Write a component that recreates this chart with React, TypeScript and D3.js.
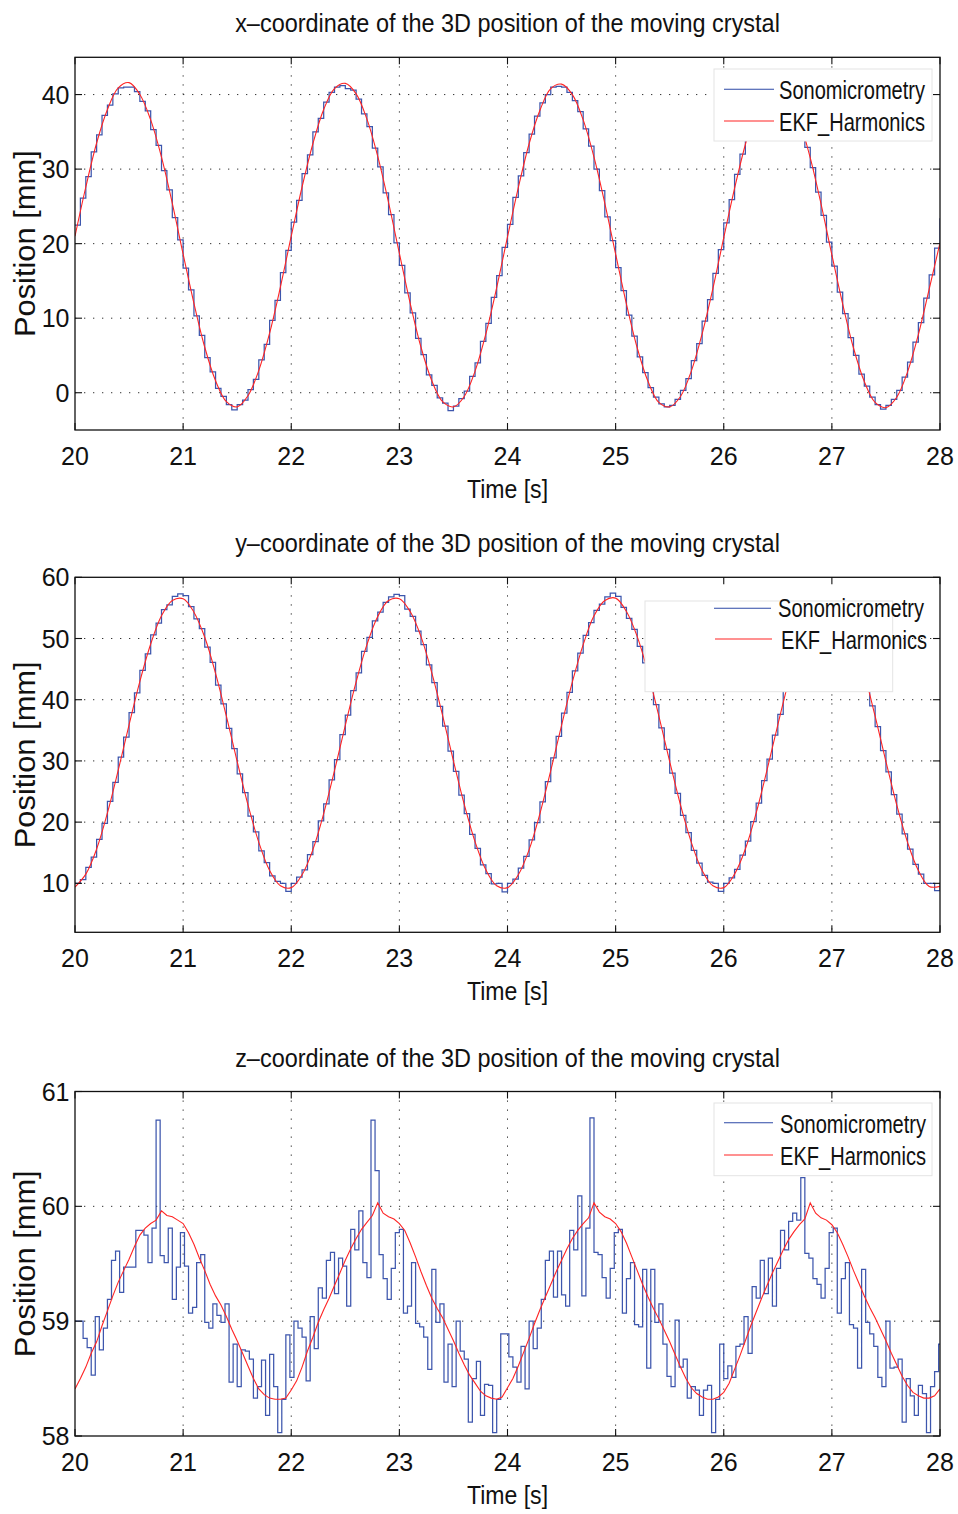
import React from 'react';
import * as d3 from 'd3';

// ---------- data ----------
const T_START = 20;
const T_END = 28;
const TIME_TICKS = [20, 21, 22, 23, 24, 25, 26, 27, 28];

const X_Y_TICKS = [0, 10, 20, 30, 40];
const Y_Y_TICKS = [10, 20, 30, 40, 50, 60];
const Z_Y_TICKS = [58, 59, 60, 61];

const SERIES_NAMES = ['Sonomicrometry', 'EKF_Harmonics'];

// x-coordinate, sonomicrometry (stairs, 0.05 s)
const X_SONO_DT = 0.05;
const X_SONO = [
  22.5, 26.1, 29.0, 32.3, 34.6, 37.2, 38.6, 40.1, 40.9, 41.0, 41.0, 40.4, 39.1, 37.8, 35.3, 33.2, 29.8, 27.2, 23.5, 20.5,
  16.7, 13.8, 10.3, 7.7, 4.7, 2.8, 0.6, -0.5, -1.6, -2.3, -1.6, -1.0, 0.4, 1.8, 4.4, 6.5, 9.7, 12.4, 16.1, 19.1,
  22.9, 25.8, 29.4, 31.9, 35.0, 36.8, 39.0, 40.3, 41.0, 41.2, 40.8, 40.6, 39.4, 37.4, 35.7, 32.8, 30.3, 26.8, 23.9, 20.1,
  17.1, 13.4, 10.7, 7.3, 5.1, 2.4, 1.0, -0.7, -1.4, -2.4, -1.8, -0.8, 0.2, 2.2, 4.0, 6.9, 9.3, 12.8, 15.7, 19.5,
  22.6, 26.2, 29.1, 32.2, 34.7, 37.1, 38.9, 40.0, 41.0, 41.1, 41.0, 40.3, 39.2, 37.7, 35.4, 33.1, 30.0, 27.1, 23.6, 20.4,
  16.8, 13.7, 10.4, 7.6, 4.8, 2.7, 0.7, -0.6, -1.5, -1.9, -1.7, -0.9, 0.3, 1.9, 4.3, 6.6, 9.6, 12.5, 16.0, 19.2,
  22.8, 25.9, 29.3, 32.0, 34.9, 36.9, 38.7, 40.2, 40.8, 41.0, 41.1, 40.5, 39.3, 37.5, 35.6, 32.9, 30.2, 26.9, 23.8, 20.2,
  17.0, 13.5, 10.6, 7.4, 5.0, 2.5, 0.9, -0.6, -1.6, -2.2, -1.7, -0.9, 0.3, 2.1, 4.1, 6.8, 9.4, 12.7, 15.8, 19.4,
  23.4,
];

// x-coordinate, EKF (0.1 s)
const X_EKF_DT = 0.1;
const X_EKF = [
  21.0, 27.6, 33.5, 38.0, 40.9, 41.6, 40.0, 36.6, 31.6, 25.4, 18.6, 12.0, 6.1, 1.6, -1.2, -1.9, -0.4, 3.0, 8.0, 14.2,
  21.0, 27.6, 33.4, 38.0, 40.8, 41.5, 40.1, 36.7, 31.7, 25.5, 18.7, 12.0, 6.1, 1.6, -1.2, -1.9, -0.5, 2.9, 7.9, 14.1,
  20.9, 27.5, 33.4, 37.9, 40.8, 41.4, 40.0, 36.6, 31.6, 25.4, 18.6, 11.9, 6.0, 1.5, -1.3, -1.9, -0.5, 2.9, 7.9, 14.0,
  20.8, 27.4, 33.3, 37.9, 40.7, 41.4, 39.9, 36.5, 31.5, 25.3, 18.5, 11.9, 6.0, 1.5, -1.3, -2.0, -0.6, 2.8, 7.8, 13.9,
  20.1,
];

// y-coordinate, sonomicrometry (stairs, 0.05 s)
const Y_SONO_DT = 0.05;
const Y_SONO = [
  10.0, 10.6, 12.6, 14.3, 17.2, 19.8, 23.4, 26.5, 30.6, 33.9, 37.9, 41.1, 44.8, 47.5, 50.6, 52.5, 54.7, 55.5, 56.9, 57.3,
  57.0, 55.2, 53.2, 51.6, 48.6, 46.1, 42.4, 39.3, 35.3, 32.0, 27.9, 24.8, 21.0, 18.4, 15.3, 13.4, 11.2, 10.3, 10.0, 8.7,
  10.0, 11.0, 12.2, 14.7, 16.8, 20.2, 23.0, 26.9, 30.2, 34.3, 37.5, 41.5, 44.4, 47.9, 50.2, 52.9, 54.3, 55.9, 56.8, 57.2,
  57.0, 54.8, 53.6, 51.2, 49.0, 45.7, 42.8, 38.9, 35.7, 31.6, 28.3, 24.4, 21.4, 18.0, 15.7, 13.0, 11.6, 9.9, 10.0, 8.6,
  10.0, 10.7, 12.5, 14.4, 17.1, 19.9, 23.3, 26.6, 30.5, 34.0, 37.8, 41.2, 44.7, 47.6, 50.5, 52.6, 54.6, 55.6, 56.8, 57.4,
  56.9, 55.1, 53.3, 51.5, 48.7, 46.0, 42.5, 39.2, 35.4, 31.9, 28.0, 24.7, 21.1, 18.3, 15.4, 13.3, 11.3, 10.2, 10.0, 8.7,
  10.0, 10.9, 12.3, 14.6, 16.9, 20.1, 23.1, 26.8, 30.3, 34.2, 37.6, 41.4, 44.5, 47.8, 50.3, 52.8, 54.4, 55.8, 56.7, 57.2,
  56.9, 54.9, 53.5, 51.3, 48.9, 45.8, 42.7, 39.0, 35.6, 31.7, 28.2, 24.5, 21.3, 18.1, 15.6, 13.1, 11.5, 10.0, 10.0, 8.8,
  10.0,
];

// y-coordinate, EKF (0.1 s)
const Y_EKF_DT = 0.1;
const Y_EKF = [
  9.4, 11.5, 15.6, 21.5, 28.5, 35.9, 43.0, 49.1, 53.7, 56.2, 56.5, 54.3, 50.2, 44.3, 37.3, 29.9, 22.8, 16.7, 12.1, 9.6,
  9.3, 11.4, 15.5, 21.4, 28.4, 35.8, 42.9, 49.0, 53.6, 56.2, 56.5, 54.4, 50.3, 44.4, 37.4, 30.0, 22.9, 16.8, 12.2, 9.6,
  9.3, 11.4, 15.5, 21.4, 28.4, 35.8, 42.9, 49.0, 53.7, 56.2, 56.6, 54.4, 50.3, 44.4, 37.3, 29.9, 22.8, 16.7, 12.1, 9.6,
  9.3, 11.5, 15.6, 21.5, 28.5, 35.9, 43.0, 49.1, 53.7, 56.2, 56.5, 54.3, 50.2, 44.3, 37.3, 29.9, 22.8, 16.7, 12.1, 9.5,
  9.5,
];

// z-coordinate, sonomicrometry (stairs, 0.0375 s)
const Z_SONO_DT = 0.0375;
const Z_SONO = [
  59.00, 59.00, 58.85, 58.77, 58.53, 59.04, 58.75, 58.94, 59.19, 59.53,
  59.61, 59.25, 59.47, 59.47, 59.47, 59.79, 59.79, 59.75, 59.51, 59.81,
  60.75, 59.57, 59.51, 59.81, 59.19, 59.47, 59.77, 59.48, 59.07, 59.12,
  59.51, 59.58, 58.99, 58.94, 59.15, 59.05, 58.99, 59.15, 58.47, 58.80,
  58.43, 58.75, 58.74, 58.67, 58.33, 58.43, 58.66, 58.18, 58.71, 58.43,
  58.03, 58.32, 58.88,
  58.51, 59.00, 58.94, 58.86, 58.48, 59.04, 58.76, 59.29, 59.20, 59.53,
  59.60, 59.24, 59.55, 59.48, 59.13, 59.80, 59.62, 59.96, 59.51, 59.38,
  60.75, 60.31, 59.58, 59.37, 59.19, 59.46, 59.77, 59.80, 59.07, 59.13,
  59.51, 58.98, 58.95, 58.86, 58.58, 59.45, 58.99, 59.15, 58.47, 58.80,
  58.43, 59.00, 58.74, 58.67, 58.12, 58.50, 58.65, 58.18, 58.45, 58.44,
  58.03, 58.32, 58.89, 58.89, 58.69,
  58.60, 58.47, 58.78, 58.41, 59.00, 58.76, 58.94, 59.19, 59.53, 59.61,
  59.21, 59.61, 59.23, 59.13, 59.79, 59.62, 60.09, 59.22, 59.81, 60.77,
  59.60, 59.58, 59.38, 59.20, 59.46, 59.77, 59.80, 59.07, 59.37, 59.51,
  58.97, 58.95, 59.45, 58.59, 59.45, 58.99, 59.15, 58.80, 58.52, 58.43,
  59.01, 58.60, 58.67, 58.33, 58.43, 58.40, 58.18, 58.40, 58.44, 58.03,
  58.32,
  58.80, 58.50, 58.61, 58.51, 58.78, 58.80, 59.04, 58.72, 59.30, 59.20,
  59.53, 59.24, 59.55, 59.13, 59.46, 59.79, 59.62, 59.87, 59.94, 59.88,
  60.25, 59.59, 59.55, 59.37, 59.32, 59.20, 59.46, 59.77, 59.81, 59.07,
  59.37, 59.51, 58.97, 58.94, 58.59, 59.45, 58.99, 58.89, 58.78, 58.51,
  58.43, 59.00, 58.59, 58.60, 58.67, 58.12, 58.50, 58.35, 58.18, 58.44,
  58.37, 58.03, 58.43, 58.56, 58.80,
  58.80,
];

// z-coordinate, EKF (0.05 s)
const Z_EKF_DT = 0.05;
const Z_EKF = [
  58.41, 58.50, 58.60, 58.72, 58.82, 58.96, 59.09, 59.22, 59.34, 59.44, 59.54, 59.65, 59.75, 59.81, 59.85, 59.88, 59.96, 59.92, 59.91, 59.88,
  59.85, 59.77, 59.67, 59.55, 59.44, 59.32, 59.22, 59.14, 59.04, 58.93, 58.83, 58.72, 58.61, 58.50, 58.41, 58.36, 58.33, 58.32, 58.32, 58.33,
  58.40, 58.48, 58.60, 58.74, 58.86, 58.99, 59.10, 59.20, 59.31, 59.42, 59.53, 59.63, 59.72, 59.80, 59.86, 59.92, 60.03, 59.94, 59.91, 59.89,
  59.85, 59.79, 59.68, 59.56, 59.43, 59.31, 59.20, 59.11, 59.03, 58.93, 58.83, 58.72, 58.62, 58.53, 58.46, 58.39, 58.35, 58.33, 58.32, 58.34,
  58.42, 58.50, 58.61, 58.73, 58.85, 58.98, 59.10, 59.21, 59.32, 59.43, 59.53, 59.63, 59.72, 59.79, 59.85, 59.90, 60.03, 59.95, 59.91, 59.89,
  59.85, 59.78, 59.68, 59.56, 59.44, 59.32, 59.21, 59.11, 59.02, 58.92, 58.82, 58.71, 58.60, 58.50, 58.42, 58.37, 58.34, 58.32, 58.32, 58.34,
  58.38, 58.46, 58.58, 58.70, 58.83, 58.96, 59.08, 59.20, 59.31, 59.42, 59.52, 59.62, 59.71, 59.78, 59.84, 59.89, 60.03, 59.94, 59.90, 59.88,
  59.84, 59.77, 59.67, 59.56, 59.44, 59.33, 59.22, 59.12, 59.03, 58.93, 58.83, 58.72, 58.62, 58.52, 58.44, 58.38, 58.35, 58.33, 58.33, 58.35,
  58.41,
];

// ---------- layout & style ----------
const W = 958;
const H = 1514;
const LEFT = 75;
const RIGHT = 940;
const FONT = '"Liberation Sans", Arial, Helvetica, sans-serif';
const BLUE = '#2c48a6';
const RED = '#ff2424';
const TICK_LEN = 7;

const PANELS = [
  {
    title: 'x\u2013coordinate of the 3D position of the moving crystal',
    top: 57.3, bottom: 430, yDomain: [-5, 45], yTicks: X_Y_TICKS,
    sono: X_SONO, sonoDt: X_SONO_DT, ekf: X_EKF, ekfDt: X_EKF_DT, ekfCurve: 'smooth',
    legend: {
      box: [714, 69, 932, 141],
      mask: [714, 69, 932, 141],
      rows: [
        { ly: 89.3, lx0: 724, lx1: 774, tx: 779, ty: 99 },
        { ly: 121, lx0: 724, lx1: 774, tx: 779, ty: 131 },
      ],
    },
  },
  {
    title: 'y\u2013coordinate of the 3D position of the moving crystal',
    top: 577.3, bottom: 932.3, yDomain: [2, 60], yTicks: Y_Y_TICKS,
    sono: Y_SONO, sonoDt: Y_SONO_DT, ekf: Y_EKF, ekfDt: Y_EKF_DT, ekfCurve: 'smooth',
    legend: {
      box: [645, 601, 892.7, 691.7],
      mask: [645, 578, 892.7, 691.7],
      rows: [
        { ly: 608.3, lx0: 714, lx1: 771, tx: 778, ty: 616.7 },
        { ly: 639, lx0: 715, lx1: 772, tx: 781, ty: 649 },
      ],
    },
  },
  {
    title: 'z\u2013coordinate of the 3D position of the moving crystal',
    top: 1091.5, bottom: 1436, yDomain: [58, 61], yTicks: Z_Y_TICKS,
    sono: Z_SONO, sonoDt: Z_SONO_DT, ekf: Z_EKF, ekfDt: Z_EKF_DT, ekfCurve: 'linear',
    legend: {
      box: [714, 1103, 932, 1175.7],
      mask: [714, 1103, 932, 1175.7],
      rows: [
        { ly: 1122.7, lx0: 724, lx1: 773, tx: 780, ty: 1133 },
        { ly: 1155, lx0: 724, lx1: 773, tx: 780, ty: 1165 },
      ],
    },
  },
];

function toPoints(values: number[], dt: number): [number, number][] {
  return values.map((v, i) => [Math.min(T_START + i * dt, T_END), v]);
}

function Panel({ cfg, id }: { cfg: any; id: number }) {
  const x = d3.scaleLinear().domain([T_START, T_END]).range([LEFT, RIGHT]);
  const y = d3.scaleLinear().domain(cfg.yDomain).range([cfg.bottom, cfg.top]);

  const stairs = d3
    .line<[number, number]>()
    .x((d) => x(d[0]))
    .y((d) => y(d[1]))
    .curve(d3.curveStepAfter);
  const smooth = d3
    .line<[number, number]>()
    .x((d) => x(d[0]))
    .y((d) => y(d[1]))
    .curve(cfg.ekfCurve === 'linear' ? d3.curveLinear : d3.curveCatmullRom.alpha(0.5));

  const sonoPath = stairs(toPoints(cfg.sono, cfg.sonoDt)) || '';
  const ekfPath = smooth(toPoints(cfg.ekf, cfg.ekfDt)) || '';

  const clipId = `clip-${id}`;
  const top = cfg.top;
  const bottom = cfg.bottom;
  const midX = (LEFT + RIGHT) / 2;
  const midY = (top + bottom) / 2;
  const [bx0, by0, bx1, by1] = cfg.legend.box;
  const [mx0, my0, mx1, my1] = cfg.legend.mask;

  const gridStyle = { stroke: '#333', strokeWidth: 1, strokeDasharray: '1.3 7.7' };

  return (
    <g>
      <defs>
        <clipPath id={clipId}>
          <rect x={LEFT} y={top} width={RIGHT - LEFT} height={bottom - top} />
        </clipPath>
      </defs>
      <rect x={LEFT} y={top} width={RIGHT - LEFT} height={bottom - top} fill="#fff" />

      {TIME_TICKS.filter((t) => t > T_START && t < T_END).map((t) => (
        <line key={`gx${t}`} x1={x(t)} x2={x(t)} y1={top} y2={bottom} {...gridStyle} />
      ))}
      {cfg.yTicks
        .filter((v: number) => v > cfg.yDomain[0] && v < cfg.yDomain[1])
        .map((v: number) => (
          <line key={`gy${v}`} x1={LEFT} x2={RIGHT} y1={y(v)} y2={y(v)} {...gridStyle} />
        ))}

      <g clipPath={`url(#${clipId})`}>
        <path d={sonoPath} fill="none" stroke={BLUE} strokeWidth={1.25} strokeOpacity={0.92} />
        <path d={ekfPath} fill="none" stroke={RED} strokeWidth={1.1} />
      </g>

      {/* legend */}
      <rect x={mx0} y={my0} width={mx1 - mx0} height={my1 - my0} fill="#fff" />
      <rect x={bx0} y={by0} width={bx1 - bx0} height={by1 - by0} fill="#fff" stroke="#e4e4e4" strokeWidth={1} />
      {cfg.legend.rows.map((r: any, i: number) => (
        <g key={`lg${i}`}>
          <line x1={r.lx0} x2={r.lx1} y1={r.ly} y2={r.ly} stroke={i === 0 ? BLUE : RED} strokeWidth={1.1} />
          <g transform={`translate(${r.tx},${r.ty}) scale(0.787,1)`}>
            <text x={0} y={0} fontSize={25.5} fill="#111">
              {SERIES_NAMES[i]}
            </text>
          </g>
        </g>
      ))}

      <rect x={LEFT} y={top} width={RIGHT - LEFT} height={bottom - top} fill="none" stroke="#111" strokeWidth={1.3} />

      {TIME_TICKS.map((t) => (
        <g key={`tx${t}`}>
          <line x1={x(t)} x2={x(t)} y1={bottom} y2={bottom - TICK_LEN} stroke="#111" strokeWidth={1.1} />
          <line x1={x(t)} x2={x(t)} y1={top} y2={top + TICK_LEN} stroke="#111" strokeWidth={1.1} />
          <text x={x(t)} y={bottom + 35} fontSize={25} textAnchor="middle" fill="#111">
            {t}
          </text>
        </g>
      ))}
      {cfg.yTicks.map((v: number) => (
        <g key={`ty${v}`}>
          <line x1={LEFT} x2={LEFT + TICK_LEN} y1={y(v)} y2={y(v)} stroke="#111" strokeWidth={1.1} />
          <line x1={RIGHT} x2={RIGHT - TICK_LEN} y1={y(v)} y2={y(v)} stroke="#111" strokeWidth={1.1} />
          <text x={69.5} y={y(v) + 9} fontSize={25} textAnchor="end" fill="#111">
            {v}
          </text>
        </g>
      ))}

      <g transform={`translate(${midX},${top - 25}) scale(0.902,1)`}>
        <text x={0} y={0} fontSize={26} textAnchor="middle" fill="#111">
          {cfg.title}
        </text>
      </g>
      <g transform={`translate(${midX},${bottom + 68}) scale(0.904,1)`}>
        <text x={0} y={0} fontSize={25.5} textAnchor="middle" fill="#111">
          Time [s]
        </text>
      </g>
      <g transform={`translate(35,${midY}) rotate(-90) scale(1.064,1)`}>
        <text x={0} y={0} fontSize={29} textAnchor="middle" fill="#111">
          Position [mm]
        </text>
      </g>
    </g>
  );
}

export default function App() {
  return (
    <svg
      width={W}
      height={H}
      viewBox={`0 0 ${W} ${H}`}
      style={{ position: 'absolute', left: 0, top: 0, background: '#fff' }}
      fontFamily={FONT}
    >
      <rect x={0} y={0} width={W} height={H} fill="#fff" />
      {PANELS.map((p, i) => (
        <Panel key={i} cfg={p} id={i} />
      ))}
    </svg>
  );
}
